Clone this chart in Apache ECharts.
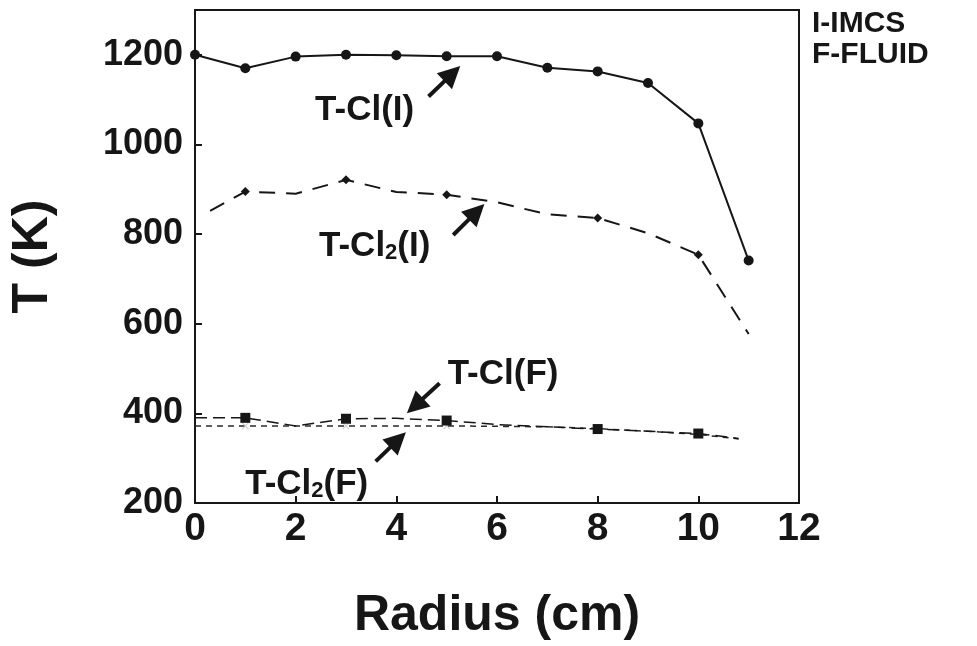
<!DOCTYPE html>
<html>
<head>
<meta charset="utf-8">
<title>T vs Radius</title>
<script src="https://cdn.jsdelivr.net/npm/echarts@6/dist/echarts.min.js"></script>
<style>
	html, body { margin: 0; padding: 0; background: #fff; }
	#tempChart { width: 977px; height: 646px; }
</style>
</head>
<body>
<div id="tempChart"></div>
<script>
// 数据
var radius = [0, 1, 2, 3, 4, 5, 6, 7, 8, 9, 10, 11];
var tClI = [1200, 1170, 1196, 1200, 1199, 1197, 1197, 1171, 1163, 1137, 1047, 741];

var tCl2IX = [0.3, 1, 2, 3, 4, 5, 6, 7, 8, 9, 10, 11];
var tCl2I = [852, 895, 890, 921, 894, 888, 871, 844, 836, 802, 754, 577];
var tCl2IMarks = [1, 3, 5, 8, 10];

var tClFX = [0, 1, 2, 3, 4, 5, 6, 7, 8, 9, 10, 10.8];
var tClF = [390, 390, 372, 388, 389, 384, 375, 370, 365, 360, 355, 344];
var tClFMarks = [1, 3, 5, 8, 10];

var tCl2FX = [0, 1, 2, 3, 4, 5, 6, 7, 8, 9, 10, 10.8];
var tCl2F = [372, 372, 372, 372, 372, 372, 371, 370, 366, 360, 353, 343];
var tCl2FMarks = [1, 3, 5];

// 标注文字 [x, T]
var noteText = ['T-Cl(I)', 'T-Cl{s|2}(I)', 'T-Cl(F)', 'T-Cl{s|2}(F)'];
var notePos = [[3.37, 1076], [3.57, 773], [6.12, 488], [2.22, 242]];
// 箭头 [尾x, 尾T, 头x, 头T]
var arrows = [
	[4.64, 1107, 5.27, 1175],
	[5.13, 798, 5.75, 867],
	[4.86, 467, 4.21, 400],
	[3.59, 293, 4.19, 358]
];
var legendNote = ['I-IMCS', 'F-FLUID'];

var FONT = '"Liberation Sans", Arial, sans-serif';
var INK = '#161616';

var tempChart = {
	chart: null,
	init: function() {
		this.chart = echarts.init(document.getElementById('tempChart'));
		this.draw();
		this.annotate();
	},
	pairs: function(xs, ys, marks) {
		return xs.map(function(x, i) {
			var item = { value: [x, ys[i]] };
			if (marks && marks.indexOf(x) < 0) {
				item.symbol = 'none';
			}
			return item;
		});
	},
	draw: function() {
		var option = {
			animation: false,
			backgroundColor: '#fff',
			grid: {
				left: 183,
				right: 178,
				top: 10,
				bottom: 114,
				show: true,
				borderColor: INK,
				borderWidth: 2
			},
			xAxis: {
				type: 'value',
				min: 0,
				max: 12,
				interval: 2,
				name: 'Radius (cm)',
				nameLocation: 'middle',
				nameGap: 88,
				nameTextStyle: { fontFamily: FONT, fontWeight: 'bold', fontSize: 50, color: INK },
				axisLine: { lineStyle: { color: INK, width: 2 } },
				axisTick: { inside: true, length: 7, lineStyle: { color: INK, width: 2 } },
				axisLabel: { fontFamily: FONT, fontWeight: 'bold', fontSize: 39, color: INK, margin: 7 },
				splitLine: { show: false }
			},
			yAxis: {
				type: 'value',
				min: 200,
				max: 1300,
				interval: 200,
				name: 'T (K)',
				nameLocation: 'middle',
				nameRotate: 90,
				nameGap: 137,
				nameTextStyle: { fontFamily: FONT, fontWeight: 'bold', fontSize: 50, color: INK },
				axisLine: { lineStyle: { color: INK, width: 2 } },
				axisTick: { inside: true, length: 7, lineStyle: { color: INK, width: 2 } },
				axisLabel: {
					fontFamily: FONT,
					fontWeight: 'bold',
					fontSize: 36,
					color: INK,
					margin: 12,
					showMaxLabel: false,
					formatter: function(v) { return String(v); }
				},
				splitLine: { show: false }
			},
			series: [{
				name: 'T-Cl(I)',
				type: 'line',
				data: this.pairs(radius, tClI),
				symbol: 'circle',
				symbolSize: 10,
				itemStyle: { color: INK },
				lineStyle: { color: INK, width: 2 }
			}, {
				name: 'T-Cl2(I)',
				type: 'line',
				data: this.pairs(tCl2IX, tCl2I, tCl2IMarks),
				symbol: 'diamond',
				symbolSize: 9,
				itemStyle: { color: INK },
				lineStyle: { color: INK, width: 2, type: [16, 11] }
			}, {
				name: 'T-Cl2(F)',
				type: 'line',
				data: this.pairs(tCl2FX, tCl2F, tCl2FMarks),
				symbol: 'path://M0,1L1,0L5,4L9,0L10,1L6,5L10,9L9,10L5,6L1,10L0,9L4,5Z',
				symbolSize: 7,
				itemStyle: { color: '#c8c8c8' },
				lineStyle: { color: '#2a2a2a', width: 1.5, type: [6, 5] },
				z: 2
			}, {
				name: 'T-Cl(F)',
				type: 'line',
				data: this.pairs(tClFX, tClF, tClFMarks),
				symbol: 'rect',
				symbolSize: 10,
				itemStyle: { color: INK },
				lineStyle: { color: INK, width: 1.5, type: [12, 6] },
				z: 3
			}]
		};
		this.chart.setOption(option, true);
	},
	annotate: function() {
		var self = this;
		var graphic = [];
		var rich = {
			s: { fontFamily: FONT, fontWeight: 'bold', fontSize: 22, lineHeight: 22, verticalAlign: 'bottom', fill: INK }
		};
		noteText.forEach(function(t, i) {
			var p = self.chart.convertToPixel({ gridIndex: 0 }, notePos[i]);
			graphic.push({
				type: 'text',
				x: p[0],
				y: p[1],
				style: {
					text: t,
					rich: rich,
					fontFamily: FONT,
					fontWeight: 'bold',
					fontSize: 35,
					lineHeight: 36,
					fill: INK,
					align: 'center',
					verticalAlign: 'middle'
				},
				z: 10
			});
		});
		// 箭头
		arrows.forEach(function(a) {
			var tail = self.chart.convertToPixel({ gridIndex: 0 }, [a[0], a[1]]);
			var tip = self.chart.convertToPixel({ gridIndex: 0 }, [a[2], a[3]]);
			var dx = tip[0] - tail[0], dy = tip[1] - tail[1];
			var len = Math.sqrt(dx * dx + dy * dy);
			var ux = dx / len, uy = dy / len;
			var headLen = 22, headHalf = 11;
			var bx = tip[0] - ux * headLen, by = tip[1] - uy * headLen;
			graphic.push({
				type: 'line',
				shape: { x1: tail[0], y1: tail[1], x2: bx + ux * 2, y2: by + uy * 2 },
				style: { stroke: INK, lineWidth: 4 },
				z: 10
			});
			graphic.push({
				type: 'polygon',
				shape: {
					points: [
						[tip[0], tip[1]],
						[bx - uy * headHalf, by + ux * headHalf],
						[bx + uy * headHalf, by - ux * headHalf]
					]
				},
				style: { fill: INK },
				z: 10
			});
		});
		legendNote.forEach(function(t, i) {
			graphic.push({
				type: 'text',
				left: 812,
				top: 9 + i * 31,
				style: { text: t, fontFamily: FONT, fontWeight: 'bold', fontSize: 30, fill: INK },
				z: 10
			});
		});
		this.chart.setOption({ graphic: graphic });
	}
};

tempChart.init();
</script>
</body>
</html>
